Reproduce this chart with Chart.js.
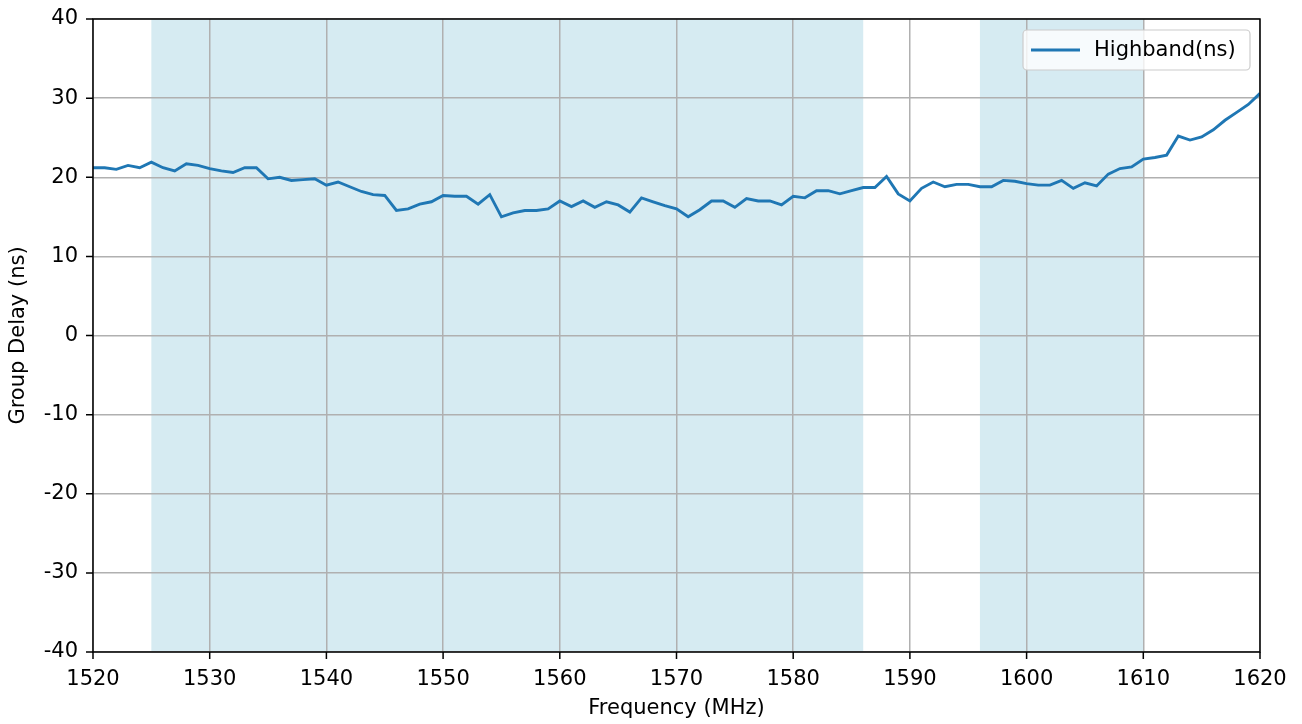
<!DOCTYPE html>
<html>
<head>
<meta charset="utf-8">
<script src="https://cdn.jsdelivr.net/npm/chart.js@4.4.1/dist/chart.umd.min.js"></script>
<style>
  html, body { margin: 0; padding: 0; background: #fff; }
  #wrap { width: 1302px; height: 724px; }
</style>
</head>
<body>
<div id="wrap"><canvas id="c" width="1302" height="724"></canvas></div>
<script>
const freqs = [
  1520, 1521, 1522, 1523, 1524, 1525, 1526, 1527, 1528, 1529,
  1530, 1531, 1532, 1533, 1534, 1535, 1536, 1537, 1538, 1539,
  1540, 1541, 1542, 1543, 1544, 1545, 1546, 1547, 1548, 1549,
  1550, 1551, 1552, 1553, 1554, 1555, 1556, 1557, 1558, 1559,
  1560, 1561, 1562, 1563, 1564, 1565, 1566, 1567, 1568, 1569,
  1570, 1571, 1572, 1573, 1574, 1575, 1576, 1577, 1578, 1579,
  1580, 1581, 1582, 1583, 1584, 1585, 1586, 1587, 1588, 1589,
  1590, 1591, 1592, 1593, 1594, 1595, 1596, 1597, 1598, 1599,
  1600, 1601, 1602, 1603, 1604, 1605, 1606, 1607, 1608, 1609,
  1610, 1611, 1612, 1613, 1614, 1615, 1616, 1617, 1618, 1619,
  1620
];
const highband = [
  21.2, 21.2, 21.0, 21.5, 21.2, 21.9, 21.2, 20.8, 21.7, 21.5,
  21.1, 20.8, 20.6, 21.2, 21.2, 19.8, 20.0, 19.6, 19.7, 19.8,
  19.0, 19.4, 18.8, 18.2, 17.8, 17.7, 15.8, 16.0, 16.6, 16.9,
  17.7, 17.6, 17.6, 16.6, 17.8, 15.0, 15.5, 15.8, 15.8, 16.0,
  17.0, 16.3, 17.0, 16.2, 16.9, 16.5, 15.6, 17.4, 16.9, 16.4,
  16.0, 15.0, 15.9, 17.0, 17.0, 16.2, 17.3, 17.0, 17.0, 16.5,
  17.6, 17.4, 18.3, 18.3, 17.9, 18.3, 18.7, 18.7, 20.1, 17.9,
  17.0, 18.6, 19.4, 18.8, 19.1, 19.1, 18.8, 18.8, 19.6, 19.5,
  19.2, 19.0, 19.0, 19.6, 18.6, 19.3, 18.9, 20.4, 21.1, 21.3,
  22.3, 22.5, 22.8, 25.2, 24.7, 25.1, 26.0, 27.2, 28.2, 29.2,
  30.6
];
// shaded frequency bands [start, end] in MHz
const bands = [[1525, 1586], [1596, 1610]];
const xTicks = [1520, 1530, 1540, 1550, 1560, 1570, 1580, 1590, 1600, 1610, 1620];
const yTicks = [-40, -30, -20, -10, 0, 10, 20, 30, 40];

const FONT = 'DejaVu Sans';
const FSIZE = 21;

// light blue spans drawn under the grid
const bandPlugin = {
  id: 'bands',
  beforeDraw(chart) {
    const { ctx, chartArea: a, scales: { x } } = chart;
    ctx.save();
    ctx.fillStyle = '#d6ebf2';
    bands.forEach(([s, e]) => {
      const x0 = x.getPixelForValue(s), x1 = x.getPixelForValue(e);
      ctx.fillRect(x0, a.top, x1 - x0, a.bottom - a.top);
    });
    ctx.restore();
  }
};

// black spines, outward ticks and the legend box
const framePlugin = {
  id: 'frame',
  afterDraw(chart) {
    const { ctx, chartArea: a, scales: { x, y } } = chart;
    ctx.save();
    ctx.strokeStyle = '#000';
    ctx.lineWidth = 1.5;
    ctx.strokeRect(a.left, a.top, a.right - a.left, a.bottom - a.top);
    ctx.beginPath();
    xTicks.forEach(v => {
      const px = x.getPixelForValue(v);
      ctx.moveTo(px, a.bottom); ctx.lineTo(px, a.bottom + 7);
    });
    yTicks.forEach(v => {
      const py = y.getPixelForValue(v);
      ctx.moveTo(a.left, py); ctx.lineTo(a.left - 7, py);
    });
    ctx.stroke();

    // legend
    const lx = 1023, ly = 30, lw = 227, lh = 40, r = 4;
    ctx.beginPath();
    ctx.moveTo(lx + r, ly);
    ctx.arcTo(lx + lw, ly, lx + lw, ly + lh, r);
    ctx.arcTo(lx + lw, ly + lh, lx, ly + lh, r);
    ctx.arcTo(lx, ly + lh, lx, ly, r);
    ctx.arcTo(lx, ly, lx + lw, ly, r);
    ctx.closePath();
    ctx.fillStyle = 'rgba(255,255,255,0.8)';
    ctx.fill();
    ctx.strokeStyle = '#cccccc';
    ctx.lineWidth = 1.2;
    ctx.stroke();
    ctx.strokeStyle = '#1f77b4';
    ctx.lineWidth = 2.9;
    ctx.beginPath();
    ctx.moveTo(lx + 8, ly + 20); ctx.lineTo(lx + 57, ly + 20);
    ctx.stroke();
    ctx.fillStyle = '#000';
    ctx.font = FSIZE + 'px ' + FONT;
    ctx.textBaseline = 'middle';
    ctx.fillText('Highband(ns)', lx + 71, ly + 21);
    ctx.restore();
  }
};

new Chart(document.getElementById('c'), {
  type: 'line',
  data: {
    labels: freqs,
    datasets: [{
      label: 'Highband(ns)',
      data: freqs.map((f, i) => ({ x: f, y: highband[i] })),
      borderColor: '#1f77b4',
      borderWidth: 2.9,
      pointRadius: 0,
      tension: 0,
      fill: false
    }]
  },
  options: {
    responsive: false,
    animation: false,
    layout: { padding: { top: 19, right: 42, left: 0, bottom: 0 } },
    plugins: { legend: { display: false }, tooltip: { enabled: false } },
    scales: {
      x: {
        type: 'linear',
        min: 1520, max: 1620,
        afterBuildTicks: s => { s.ticks = xTicks.map(v => ({ value: v })); },
        afterFit: s => { s.height = 72; s.paddingLeft = 0; s.paddingRight = 0; },
        grid: { color: '#b0b0b0', lineWidth: 1.5, drawTicks: false },
        border: { display: false },
        ticks: { color: '#000', font: { family: FONT, size: FSIZE }, padding: 15, maxRotation: 0, callback: v => String(v) },
        title: { display: true, text: 'Frequency (MHz)', color: '#000', font: { family: FONT, size: FSIZE }, padding: { top: 0, bottom: 3 } }
      },
      y: {
        min: -40, max: 40,
        afterBuildTicks: s => { s.ticks = yTicks.map(v => ({ value: v })); },
        afterFit: s => { s.width = 93; s.paddingTop = 0; s.paddingBottom = 0; },
        grid: { color: '#b0b0b0', lineWidth: 1.5, drawTicks: false },
        border: { display: false },
        ticks: { color: '#000', font: { family: FONT, size: FSIZE }, padding: 15, callback: v => String(v) },
        title: { display: true, text: 'Group Delay (ns)', color: '#000', font: { family: FONT, size: FSIZE }, padding: { top: 6, bottom: 0 } }
      }
    }
  },
  plugins: [bandPlugin, framePlugin]
});
</script>
</body>
</html>
